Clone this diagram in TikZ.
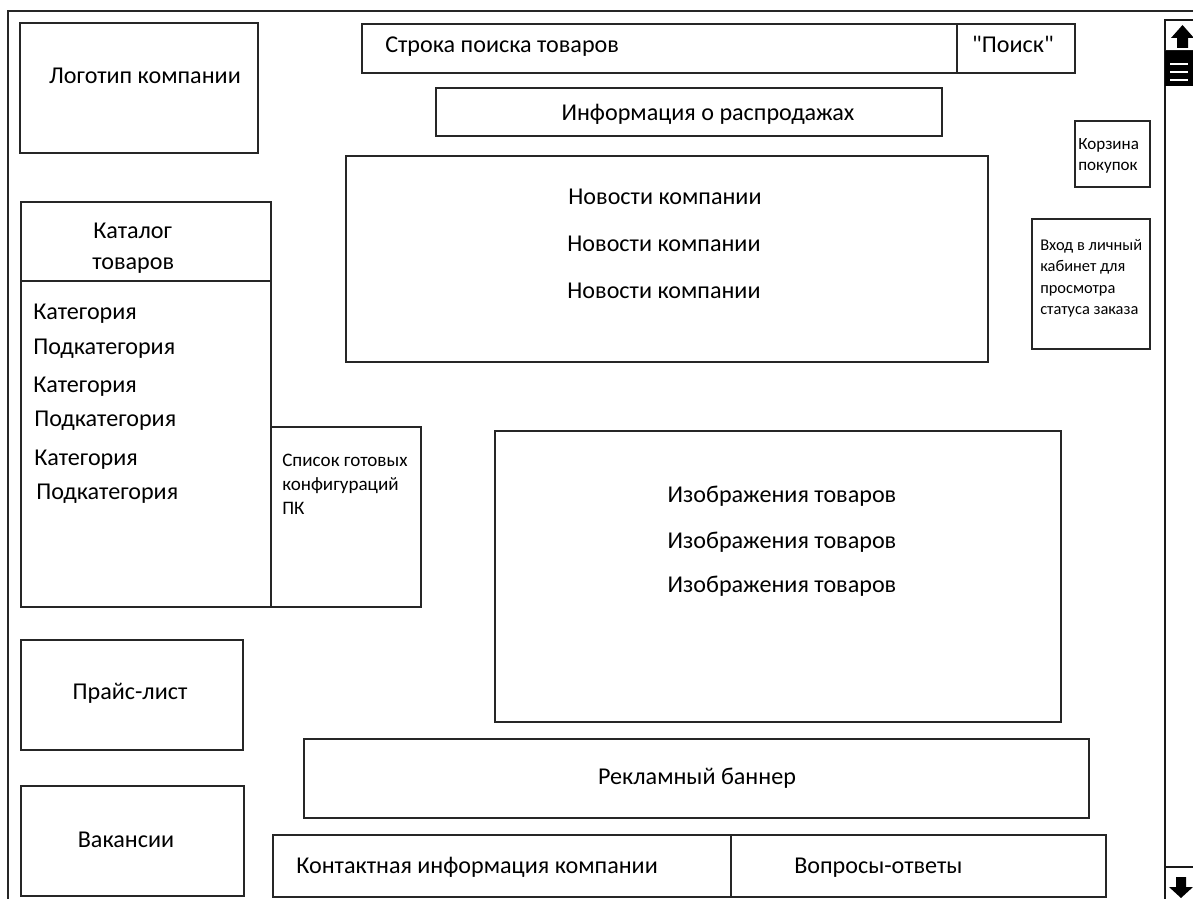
\documentclass[tikz,border=0pt]{standalone}
\usepackage{fontspec}
\setmainfont{Carlito}
% same face without TeX ligatures, so that " stays a straight quote
\newfontfamily\straightquotes{Carlito}
\usetikzlibrary{fit}
\begin{document}
\begin{tikzpicture}[x=0.75pt,y=-0.75pt,
  box/.style={draw=black!85, line width=1.1pt, inner sep=0pt},
  big/.style={font=\fontsize{18.1}{21}\selectfont, inner sep=0pt, anchor=base},
  bigl/.style={big, anchor=base west},
  medl/.style={font=\fontsize{14.3}{16}\selectfont, inner sep=0pt, anchor=base west},
  cartl/.style={font=\fontsize{12.8}{15}\selectfont, inner sep=0pt, anchor=base west},
  smalll/.style={font=\fontsize{12.3}{15}\selectfont, inner sep=0pt, anchor=base west},
  sb/.style={draw=black!90, line width=1.1pt}]
\useasboundingbox (0,0) rectangle (1193,899);
\clip (0,0) rectangle (1193,899);

% page frame
\draw[box] (8,905) -- (8,11) -- (1205,11);

% header
\node[box, fit={(20,23) (258,153)}] (logo) {};
\node[big] (logot) at (145,84) {Логотип компании};

\node[box, fit={(362,24) (957,73)}] (search) {};
\node[box, fit={(957,24) (1075,73)}] (searchbtn) {};
\node[bigl] (searcht) at (385,53) {Строка поиска товаров};
\node[big] (searchbtnt) at (1013,53) {\straightquotes"Поиск"};

\node[box, fit={(436,88) (942,136)}] (sales) {};
\node[big] (salest) at (708,121) {Информация о распродажах};

% news
\node[box, fit={(346,156) (988,362)}] (news) {};
\node[big] (news1) at (665,204) {Новости компании};
\node[big] (news2) at (664,251) {Новости компании};
\node[big] (news3) at (664,298) {Новости компании};

% cart and account
\node[box, fit={(1075,121) (1150,187)}] (cart) {};
\node[cartl] (cart1) at (1078,149) {Корзина};
\node[cartl] (cart2) at (1078,171) {покупок};

\node[box, fit={(1032,219) (1150,349)}] (login) {};
\node[smalll] (login1) at (1040,250) {Вход в личный};
\node[smalll] (login2) at (1040,271) {кабинет для};
\node[smalll] (login3) at (1040,293) {просмотра};
\node[smalll] (login4) at (1040,314) {статуса заказа};

% catalogue
\node[box, fit={(21,202) (271,281)}] (cathead) {};
\node[bigl] (cathead1) at (93,238) {Каталог};
\node[bigl] (cathead2) at (92,269) {товаров};
\node[box, fit={(21,281) (271,607)}] (catbody) {};
\node[bigl] (c1) at (33,319) {Категория};
\node[bigl] (s1) at (33,354) {Подкатегория};
\node[bigl] (c2) at (33,392) {Категория};
\node[bigl] (s2) at (34,426) {Подкатегория};
\node[bigl] (c3) at (34,465) {Категория};
\node[bigl] (s3) at (36,499) {Подкатегория};

\node[box, fit={(271,427) (421,607)}] (configs) {};
\node[medl] (configs1) at (282,466) {Список готовых};
\node[medl] (configs2) at (282,490) {конфигураций};
\node[medl] (configs3) at (282,514) {ПК};

% product images
\node[box, fit={(495,431) (1061,722)}] (images) {};
\node[big] (img1) at (782,502) {Изображения товаров};
\node[big] (img2) at (782,548) {Изображения товаров};
\node[big] (img3) at (782,592) {Изображения товаров};

% left column
\node[box, fit={(21,640) (243,750)}] (price) {};
\node[big] (pricet) at (130,699) {Прайс-лист};
\node[box, fit={(21,786) (244,896)}] (jobs) {};
\node[big] (jobst) at (126,847) {Вакансии};

% banner and footer
\node[box, fit={(304,739) (1089,818)}] (banner) {};
\node[big] (bannert) at (697,784) {Рекламный баннер};
\node[box, fit={(273,835) (731,897)}] (contacts) {};
\node[bigl] (contactst) at (296,873) {Контактная информация компании};
\node[box, fit={(731,835) (1106,897)}] (faq) {};
\node[bigl] (faqt) at (794,873) {Вопросы-ответы};

% scrollbar
\draw[sb] (1165,20) rectangle (1205,905);
\draw[sb] (1165,51) -- (1205,51);
\fill[black] (1165,51) rectangle (1205,86);
\foreach \yy in {64,72,80} \draw[white, line width=1.4pt] (1170,\yy) -- (1188,\yy);
\draw[sb] (1165,867) -- (1205,867);
\fill[black] (1182.5,25) -- (1194,38) -- (1188,38) -- (1188,48) -- (1177,48) -- (1177,38) -- (1171,38) -- cycle;
\fill[black] (1176,877) -- (1186,877) -- (1186,887) -- (1193,887) -- (1181,898) -- (1169,887) -- (1176,887) -- cycle;
\end{tikzpicture}
\end{document}
